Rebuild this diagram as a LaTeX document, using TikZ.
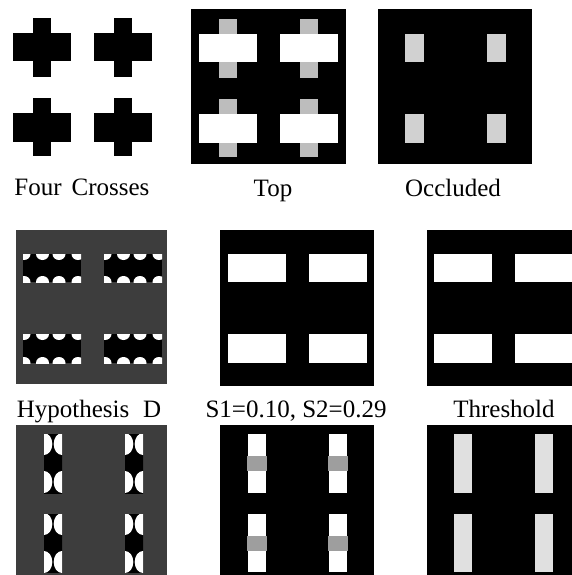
\documentclass[tikz,border=0pt]{standalone}
\usepackage{fontspec}
\setmainfont{Liberation Serif}
\definecolor{topgray}{gray}{0.74}
\definecolor{occgray}{gray}{0.82}
\definecolor{thrgray}{gray}{0.88}
\definecolor{hypbg}{gray}{0.24}
\definecolor{bandgray}{gray}{0.62}
% horizontal arms of the four crosses, relative to origin (#1,#2)
\newcommand\hArms[3]{%
  \foreach \a/\b in {8/66,89/147}{\foreach \c/\d in {25/53,105/134}{%
    \fill[#3] (#1+\a,#2+\c) rectangle (#1+\b,#2+\d);}}}
% vertical arms of the four crosses, relative to origin (#1,#2)
\newcommand\vArms[3]{%
  \foreach \a/\b in {28/46,109/127}{\foreach \c/\d in {10/69,90/148}{%
    \fill[#3] (#1+\a,#2+\c) rectangle (#1+\b,#2+\d);}}}
\begin{document}
\begin{tikzpicture}[x=1pt,y=-1pt,
  lbl/.style={font=\fontsize{25}{29}\selectfont, anchor=base, inner sep=0pt},
  panel/.style={fill=black}]
\useasboundingbox (0,0) rectangle (572,575);
\fill[white] (0,0) rectangle (572,575);
\clip (0,0) rectangle (572,575);

% ---------- Row 1 ----------
% Four Crosses
\vArms{5}{8}{black}
\hArms{5}{8}{black}
% Top
\fill[panel] (191,9) rectangle (346,164);
\vArms{191}{9}{topgray}
\hArms{191}{9}{white}
% Occluded
\fill[panel] (378,9) rectangle (532,164);
\foreach \a/\b in {27/46,109/128}{\foreach \c/\d in {25/53,105/134}{%
  \fill[occgray] (378+\a,9+\c) rectangle (378+\b,9+\d);}}

% ---------- Row 2 ----------
% Hypothesis D (horizontal)
\fill[hypbg] (16,230) rectangle (167,384);
\foreach \a/\b in {8/66,89/147}{\foreach \c/\d in {25/53,105/134}{%
  \begin{scope}
    \clip (15+\a,229+\c) rectangle (15+\b,229+\d);
    \fill[black] (15+\a,229+\c) rectangle (15+\b,229+\d);
    \foreach \e in {1,19.5,36,55}{%
      \fill[white] (15+\a+\e,229+\c) ellipse[x radius=6.5pt, y radius=6pt];
      \fill[white] (15+\a+\e,229+\d) ellipse[x radius=6.5pt, y radius=6pt];}
  \end{scope}}}
% S1/S2
\fill[panel] (220,230) rectangle (374,386);
\hArms{220}{229}{white}
% Threshold
\fill[panel] (427,230) rectangle (585,386);
\hArms{426}{229}{white}

% ---------- Row 3 ----------
% Hypothesis D (vertical)
\fill[hypbg] (16,425) rectangle (167,585);
\foreach \a/\b in {28/46,109/127}{\foreach \c/\d in {10/69,90/148}{%
  \begin{scope}
    \clip (16+\a,424+\c) rectangle (16+\b,424+\d);
    \fill[black] (16+\a-2,424+\c-2) rectangle (16+\b+2,424+\d+2);
    \foreach \e in {10,48}{%
      \fill[white] (16+\a,424+\c+\e) ellipse[x radius=8.3pt, y radius=11pt];
      \fill[white] (16+\b,424+\c+\e) ellipse[x radius=8.3pt, y radius=11pt];}
  \end{scope}}}
% S1/S2
\fill[panel] (220,425) rectangle (374,585);
\vArms{220}{424}{white}
\foreach \a/\b in {28/46,109/127}{\foreach \c/\d in {10/69,90/148}{%
  \fill[bandgray] (220+\a-1,424+\c+22) rectangle (220+\b+1,424+\c+37);}}
% Threshold
\fill[panel] (427,425) rectangle (585,585);
\vArms{426}{424}{thrgray}

% ---------- Labels ----------
\node[lbl] (l1) at (82,195) {Four\hspace{0.15em} Crosses};
\node[lbl] (l2) at (273,196) {Top};
\node[lbl] (l3) at (453,196) {Occluded};
\node[lbl] (l4) at (89,417) {Hypothesis\hspace{0.3em} D};
\node[lbl] (l5) at (296,417) {S1=0.10, S2=0.29};
\node[lbl] (l6) at (504,417) {Threshold};
\end{tikzpicture}
\end{document}
